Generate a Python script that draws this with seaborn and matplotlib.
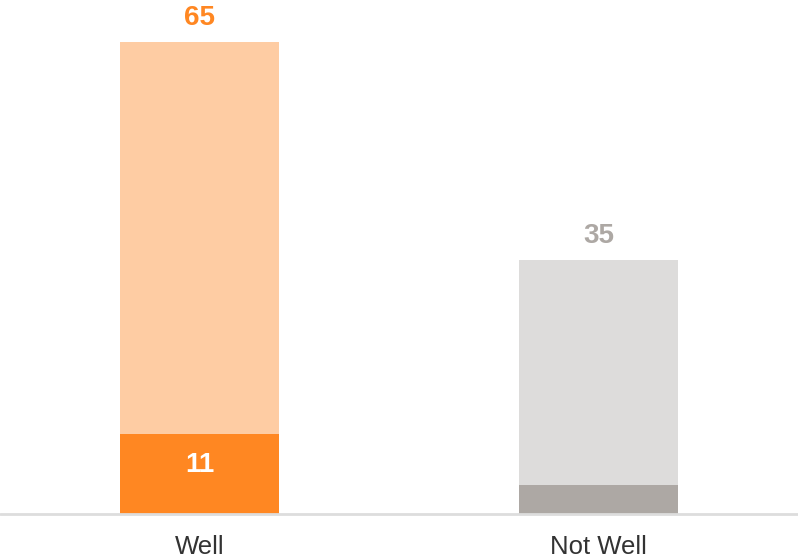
import numpy as np
import pandas as pd
import seaborn as sns
import matplotlib.pyplot as plt

# chart values
categories = ['Well', 'Not Well']
totals = [65, 35]
inner = [11, 4]
inner_labels = ['11', '']

light_colors = ['#FECCA3', '#DDDCDB']
dark_colors = ['#FF8722', '#ADA8A4']
label_colors = ['#FF8722', '#ADA8A4']

sns.set_theme(style='white')
plt.rcParams['font.family'] = ['Liberation Sans', 'DejaVu Sans']

fig = plt.figure(figsize=(7.98, 5.59), dpi=100)
ax = fig.add_axes([0, 45 / 559, 1, 514 / 559])

df = pd.DataFrame({'cat': categories, 'total': totals, 'inner': inner})
sns.barplot(data=df, x='cat', y='total', hue='cat', palette=light_colors,
            width=0.4, legend=False, ax=ax, saturation=1, linewidth=0)
sns.barplot(data=df, x='cat', y='inner', hue='cat', palette=dark_colors,
            width=0.4, legend=False, ax=ax, saturation=1, linewidth=0)

ax.set_xlim(-0.5, 1.5)
ax.set_ylim(0, 70.8)
for s in ax.spines.values():
    s.set_visible(False)
ax.set_yticks([])
ax.set_xlabel('')
ax.set_ylabel('')
ax.axhline(0, color='#DDDDDD', lw=2, clip_on=False, zorder=5)
ax.tick_params(axis='x', length=0, pad=15, labelsize=18.5, labelcolor='#333333')

# value labels
for i, v in enumerate(totals):
    ax.annotate(str(v), (i, v), xytext=(0, 17), textcoords='offset points',
                ha='center', va='center', fontsize=20, fontweight='bold',
                color=label_colors[i])
for i, t in enumerate(inner_labels):
    if t:
        ax.text(i, 6.7, t, ha='center', va='center', fontsize=20,
                fontweight='bold', color='white')

fig.savefig('out.png', dpi=100)
